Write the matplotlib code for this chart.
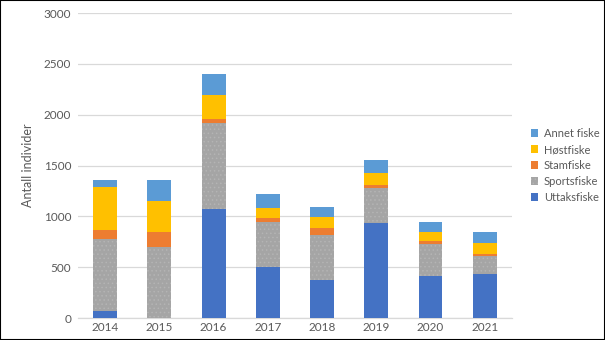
import matplotlib
matplotlib.use("Agg")
import matplotlib.pyplot as plt
import numpy as np

plt.rcParams['font.family'] = ['Lato', 'DejaVu Sans']

years = ["2014", "2015", "2016", "2017", "2018", "2019", "2020", "2021"]
uttaksfiske = [70, 0, 1070, 500, 375, 935, 415, 435]
sportsfiske = [710, 700, 845, 445, 440, 345, 315, 175]
stamfiske = [90, 150, 40, 40, 70, 30, 30, 20]
hostfiske = [420, 300, 235, 100, 110, 120, 90, 110]
annet_fiske = [70, 210, 215, 135, 100, 120, 95, 110]

series = [
    ("Uttaksfiske", uttaksfiske, "#4472C4", None),
    ("Sportsfiske", sportsfiske, "#A5A5A5", "...."),
    ("Stamfiske", stamfiske, "#ED7D31", None),
    ("Høstfiske", hostfiske, "#FFC000", None),
    ("Annet fiske", annet_fiske, "#5B9BD5", None),
]

plt.rcParams['hatch.color'] = "#B4B4B4"
plt.rcParams['hatch.linewidth'] = 0.6

fig = plt.figure(figsize=(6.05, 3.40), dpi=100)
fig.patch.set_facecolor("white")
ax = fig.add_axes([0.129, 0.0647, 0.717, 0.897])

x = np.arange(len(years))
bottom = np.zeros(len(years))
handles = []
for name, vals, color, hatch in series:
    vals = np.array(vals, dtype=float)
    if hatch:
        b = ax.bar(x, vals, 0.44, bottom=bottom, color=color, hatch=hatch,
                   edgecolor="#B4B4B4", linewidth=0, label=name, zorder=3)
    else:
        b = ax.bar(x, vals, 0.44, bottom=bottom, color=color, linewidth=0,
                   label=name, zorder=3)
    handles.append(b)
    bottom += vals

ax.set_xlim(-0.5, len(years) - 0.5)
ax.set_ylim(0, 3000)
ax.set_yticks(np.arange(0, 3001, 500))
ax.set_xticks(x)
ax.set_xticklabels(years)
ax.grid(axis="y", color="#D9D9D9", linewidth=0.9, zorder=0)
for s in ["top", "right", "left"]:
    ax.spines[s].set_visible(False)
ax.spines["bottom"].set_color("#D9D9D9")
ax.spines["bottom"].set_linewidth(0.9)
ax.tick_params(axis="both", length=0, colors="#595959", labelsize=8.5)
ax.tick_params(axis="y", pad=5)
ax.tick_params(axis="x", pad=3)
ax.set_ylabel("Antall individer", color="#595959", fontsize=9, labelpad=7)

leg = ax.legend(handles=handles[::-1], labels=[s[0] for s in series][::-1],
                loc="center left", bbox_to_anchor=(1.02, 0.5), frameon=False,
                fontsize=8, handlelength=0.7, handleheight=0.7,
                handletextpad=0.5, labelspacing=0.45, labelcolor="#595959")

# Outer frame of the figure
fig.add_artist(plt.Rectangle((0, 0), 1, 1, transform=fig.transFigure,
                             fill=False, edgecolor="black", linewidth=1.5))

fig.savefig("out.png", dpi=100, facecolor="white")
